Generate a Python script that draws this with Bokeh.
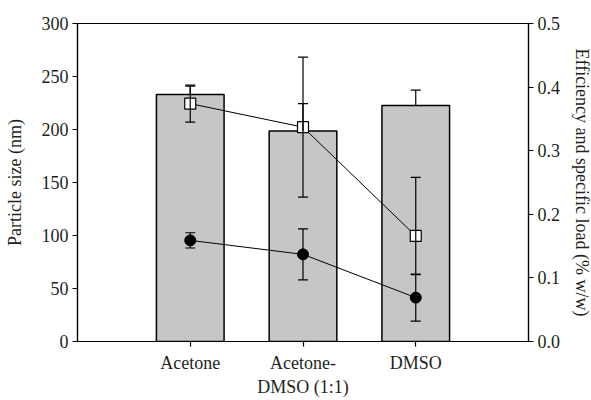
from bokeh.plotting import figure
from bokeh.models import (Range1d, LinearAxis, FixedTicker, ColumnDataSource,
                          Whisker, TeeHead, NumeralTickFormatter)
from bokeh.embed import file_html
from bokeh.resources import INLINE

categories = ["Acetone", "Acetone-\nDMSO (1:1)", "DMSO"]
positions = [1, 2, 3]
size_nm = [233, 198.5, 222.7]
size_err = [8, 26, 14.5]
load_square = [0.374, 0.337, 0.166]
load_square_err_up = [0.029, 0.110, 0.092]
load_square_err_down = [0.029, 0.110, 0.061]
eff_circle = [0.159, 0.137, 0.069]
eff_circle_err = [0.012, 0.040, 0.037]
left_ticks = [0, 50, 100, 150, 200, 250, 300]
right_ticks = [0.0, 0.1, 0.2, 0.3, 0.4, 0.5]

FONT = "Liberation Serif"
FS = "18px"

p = figure(width=591, height=400, output_backend="svg", toolbar_location=None,
           x_range=Range1d(0, 4), y_range=Range1d(0, 300),
           frame_width=451, frame_height=318,
           min_border_left=77, min_border_right=10, min_border_top=23, min_border_bottom=10)
p.background_fill_color = "white"
p.border_fill_color = "white"
p.outline_line_color = "black"
p.outline_line_width = 1.2
p.xgrid.visible = False
p.ygrid.visible = False
p.extra_y_ranges = {"right": Range1d(0, 0.5)}

bars = ColumnDataSource(dict(x=positions, top=size_nm,
                             upper=[v + e for v, e in zip(size_nm, size_err)]))
p.vbar(x="x", top="top", width=0.6, bottom=0, source=bars,
       fill_color="#c5c6c8", line_color="black", line_width=1.5)
p.add_layout(Whisker(base="x", upper="upper", lower="top", source=bars, level="glyph",
                     line_color="black", line_width=1.2,
                     upper_head=TeeHead(size=10, line_width=1.2, line_color="black"),
                     lower_head=None))

sq = ColumnDataSource(dict(x=positions, y=load_square,
                           upper=[v + e for v, e in zip(load_square, load_square_err_up)],
                           lower=[v - e for v, e in zip(load_square, load_square_err_down)]))
ci = ColumnDataSource(dict(x=positions, y=eff_circle,
                           upper=[v + e for v, e in zip(eff_circle, eff_circle_err)],
                           lower=[v - e for v, e in zip(eff_circle, eff_circle_err)]))
for src in (sq, ci):
    p.add_layout(Whisker(base="x", upper="upper", lower="lower", source=src, level="glyph",
                         y_range_name="right", line_color="black", line_width=1.2,
                         upper_head=TeeHead(size=10, line_width=1.2, line_color="black"),
                         lower_head=TeeHead(size=10, line_width=1.2, line_color="black")))
for src in (sq, ci):
    p.line("x", "y", source=src, y_range_name="right", line_color="black", line_width=1)

p.scatter("x", "y", source=sq, y_range_name="right", marker="square", size=11,
          fill_color="white", line_color="black", line_width=1.2)
p.scatter("x", "y", source=ci, y_range_name="right", marker="circle", size=11,
          fill_color="black", line_color="black")

def style(ax):
    ax.major_label_text_font = FONT
    ax.major_label_text_font_size = FS
    ax.major_label_text_color = "#231f20"
    ax.axis_label_text_font = FONT
    ax.axis_label_text_font_size = FS
    ax.axis_label_text_font_style = "normal"
    ax.axis_label_text_color = "#231f20"
    ax.axis_line_color = "black"
    ax.axis_line_width = 1.2
    ax.major_tick_line_color = "black"
    ax.major_tick_line_width = 1.2
    ax.major_tick_in = 0
    ax.major_tick_out = 5
    ax.minor_tick_line_color = None

xa = p.xaxis[0]
style(xa)
xa.ticker = FixedTicker(ticks=positions)
xa.major_label_overrides = {pos: lab for pos, lab in zip(positions, categories)}
xa.major_label_standoff = 6

ya = p.yaxis[0]
style(ya)
ya.ticker = FixedTicker(ticks=left_ticks)
ya.axis_label = "Particle size (nm)"
ya.major_label_standoff = 4
ya.axis_label_standoff = 14

ra = LinearAxis(y_range_name="right", axis_label="Efficiency and specific load (% w/w)")
style(ra)
ra.ticker = FixedTicker(ticks=right_ticks)
ra.formatter = NumeralTickFormatter(format="0.0")
ra.major_label_standoff = 4
ra.axis_label_standoff = 9
p.add_layout(ra, "right")

open("out.html", "w").write(file_html(p, INLINE))
